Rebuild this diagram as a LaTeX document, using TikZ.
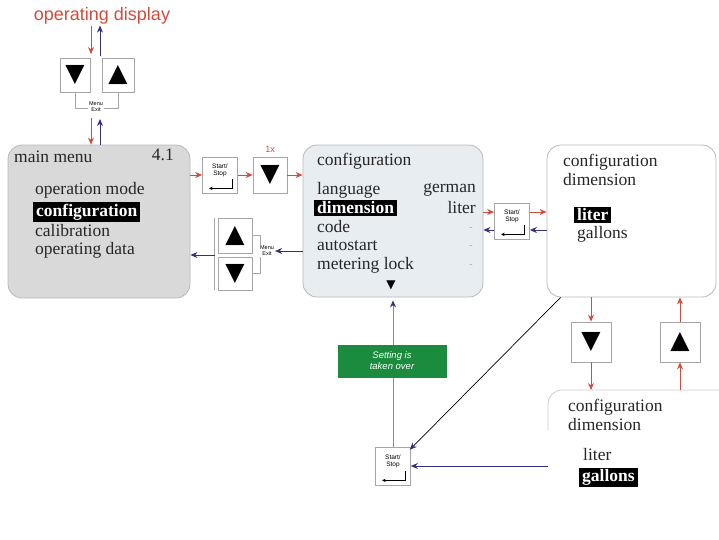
\documentclass[tikz,border=0pt]{standalone}
\usepackage{fontspec}
\setmainfont{Liberation Serif}
\setsansfont{Liberation Sans}
\newfontfamily\symfont{DejaVu Sans}
\usepackage{tikz}
\usetikzlibrary{arrows.meta,positioning,calc}
\definecolor{arrred}{HTML}{D24B3C}
\definecolor{arrblue}{HTML}{34307F}
\definecolor{vertline}{HTML}{8E86A3}
\definecolor{takengreen}{HTML}{1B8B3D}
\definecolor{mmgray}{HTML}{D9D9D9}
\definecolor{cfgfill}{HTML}{E8EDF2}

\begin{document}
\begin{tikzpicture}[x=1pt, y=-1pt,
    panel/.style={draw=gray!55, line width=0.8pt, rounded corners=14pt},
    keybox/.style={draw=gray!70, fill=white, line width=0.7pt, minimum width=34pt,
                   minimum height=36pt, inner sep=0pt, font=\symfont\fontsize{25}{25}\selectfont},
    sskey/.style={keybox, minimum width=35pt},
    sslbl/.style={font=\sffamily\fontsize{6.5}{7}\selectfont, align=center, inner sep=0pt},
    exitlbl/.style={font=\sffamily\fontsize{5.5}{6}\selectfont, align=center, inner sep=1pt, fill=white},
    item/.style={anchor=west, inner sep=0pt, text=black!85, font=\fontsize{17.5}{19}\selectfont},
    hl/.style={item, fill=black, text=white, inner xsep=3pt, inner ysep=1.5pt,
               font=\bfseries\fontsize{17.5}{19}\selectfont},
    redarr/.style={-{Stealth[length=7pt,width=6pt]}, line width=0.9pt, arrred},
    bluearr/.style={-{Stealth[length=7pt,width=6pt]}, line width=0.9pt, arrblue},
    bracket/.style={draw=gray!70, line width=0.6pt},
    enter/.style={-{Stealth[length=3.5pt,width=3.5pt]}, line width=0.7pt},
    dashmark/.style={font=\fontsize{10}{10}\selectfont, text=gray!70, inner sep=0pt},
    taken/.style={fill=takengreen, text=white, minimum width=109pt, minimum height=33pt,
                  align=center, font=\sffamily\itshape\fontsize{9.5}{11}\selectfont}
]
\useasboundingbox (0,0) rectangle (719,539);

% Operating display and its keys
\node[font=\sffamily\fontsize{18}{20}\selectfont, text=arrred, inner sep=1pt] (opdisp) at (102,16) {operating display};
\node[keybox, minimum width=30pt, minimum height=34pt] (downtop) at (75,75) {▼};
\node[keybox, minimum width=32pt, minimum height=34pt] (uptop) at (118,75) {▲};
\draw[bracket] (downtop.south) -- ++(0,16) -| (uptop.south);
\node[exitlbl] (exittop) at (96,107) {Menu\\Exit};
\coordinate (keysin) at (91,54);
\coordinate (keysout) at (100,56);
\coordinate (keysdown) at (91,118);
\coordinate (keysup) at (100,119);
\draw[redarr] (opdisp.south -| keysin) -- (keysin);
\draw[bluearr] (keysout) -- (opdisp.south -| keysout);

% Main menu
\node[panel, fill=mmgray, minimum width=182pt, minimum height=153pt] (mainmenu) at (99,221.5) {};
\node[item] (mmtitle) at (14,157) {main menu};
\node[item, anchor=east] (mmnum) at (174,155) {4.1};
\node[item] (opmode) at (35,190) {operation mode};
\node[hl] (mmconfig) at (33,212) {configuration};
\node[item] (calib) at (35,231) {calibration};
\node[item] (opdata) at (35,250) {operating data};
\draw[redarr] (keysdown) -- (mainmenu.north -| keysdown);
\draw[bluearr] (mainmenu.north -| keysup) -- (keysup);

% Configuration
\node[panel, fill=cfgfill, minimum width=180pt, minimum height=152pt] (config) at (393,221) {};
\node[item] (cfgtitle) at (317,161) {configuration};
\node[item] (lang) at (317,190) {language};
\node[item, anchor=east] (german) at (476,190) {german};
\node[hl] (dimsel) at (314,208) {dimension};
\node[item, anchor=east] (literval) at (476,208) {liter};
\node[item] (code) at (317,227) {code};
\node[item] (autostart) at (317,246) {autostart};
\node[item] (metering) at (317,265) {metering lock};
\foreach \y [count=\i] in {229,247,266}
  \node[dashmark] (dash\i) at (471,\y) {-};
\node[inner sep=0pt, font=\symfont\fontsize{12}{12}\selectfont] (cfgmore) at (391,285) {▼};

% Keys between main menu and configuration
\node[sskey] (sstop) at (220,175) {};
\node[keybox] (down1x) at (270,175) {▼};
\node[font=\sffamily\fontsize{9}{9}\selectfont, text=arrred, above=1pt of down1x] (once) {1x};
\draw[redarr] (mainmenu.east |- sstop) -- (sstop);
\draw[redarr] (sstop) -- (down1x);
\draw[redarr] (down1x) -- (config.west |- down1x);

\node[keybox, minimum height=35pt] (upmid) at (235,235.5) {▲};
\node[keybox, minimum height=33pt] (downmid) at (235,273.5) {▼};
\node[exitlbl, fill=none] (exitmid) at (267,251) {Menu\\Exit};
\draw[bracket] ([xshift=-3pt]upmid.north west) -- ([xshift=-3pt]downmid.south west);
\draw[bracket] (upmid.east) -| ([xshift=1pt]exitmid.north west);
\draw[bracket] (downmid.east) -| ([xshift=1pt]exitmid.south west);
\coordinate (midleft) at ($(upmid.south west)!0.5!(downmid.north west)+(-3,0)$);
\draw[bluearr] (config.west |- exitmid) -- (exitmid.east);
\draw[bluearr] (midleft) -- (mainmenu.east |- midleft);

% Dimension
\node[panel, fill=white, minimum width=169pt, minimum height=152pt] (dimbox) at (631.5,221) {};
\node[item] (dimtitle) at (563,162) {configuration};
\node[item] (dimsub) at (563,180) {dimension};
\node[hl] (litersel) at (574,215) {liter};
\node[item] (gallonsopt) at (577,234) {gallons};

\node[sskey] (ssdim) at (512,221) {};
\coordinate (fwd) at ([yshift=9pt]ssdim.west);
\coordinate (fwdout) at ([yshift=9pt]ssdim.east);
\coordinate (back) at ([yshift=-9pt]ssdim.east);
\coordinate (backout) at ([yshift=-9pt]ssdim.west);
\draw[redarr] (config.east |- fwd) -- (fwd);
\draw[redarr] (fwdout) -- (dimbox.west |- fwdout);
\draw[bluearr] (dimbox.west |- back) -- (back);
\draw[bluearr] (backout) -- (config.east |- backout);

% Gallons selected
\coordinate (galtop) at (548,390);
\draw[panel, draw=gray!40] ([yshift=-40pt]galtop) |- (730,390);
\node[item] (galtitle) at (568,407) {configuration};
\node[item] (galsub) at (568,425) {dimension};
\node[item] (literopt) at (583,455) {liter};
\node[hl] (gallonssel) at (579,477) {gallons};

\node[keybox, minimum width=40pt, minimum height=40pt] (downdim) at (591,342) {▼};
\node[keybox, minimum width=40pt, minimum height=40pt] (updim) at (680,342) {▲};
\draw[redarr] (dimbox.south -| downdim) -- (downdim);
\draw[redarr] (downdim) -- (galtop -| downdim);
\draw[redarr] (galtop -| updim) -- (updim);
\draw[redarr] (updim) -- (dimbox.south -| updim);

% Taking over the setting
\node[sskey, minimum height=38pt] (ssgal) at (393,466) {};
\draw[bluearr] (galtop |- ssgal) -- (ssgal);
\draw[line width=0.7pt, -{Stealth[length=7pt,width=6pt,color=arrblue]}]
  ([xshift=14pt]dimbox.south west) -- ([xshift=-1pt,yshift=-3pt]ssgal.north east);
\draw[line width=0.9pt, vertline, -{Stealth[length=7pt,width=6pt,color=arrblue]}]
  (ssgal.north) -- ([yshift=-3pt]config.south);
\node[taken] (takenover) at (392,361) {Setting is\\taken over};

\foreach \k in {sstop,ssdim,ssgal}{
  \node[sslbl] (\k-txt) at ([yshift=5pt]\k.center) {Start/\\Stop};
  \draw[enter] ([xshift=-6pt,yshift=14pt]\k.south east) |- ([xshift=7pt,yshift=5pt]\k.south west);
}
\end{tikzpicture}
\end{document}
